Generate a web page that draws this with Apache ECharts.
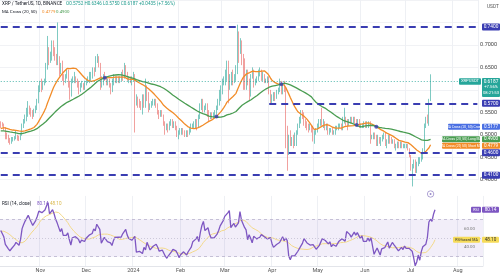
<!DOCTYPE html>
<html><head><meta charset="utf-8">
<script src="https://cdn.jsdelivr.net/npm/echarts@6/dist/echarts.min.js"></script>
<style>html,body{margin:0;padding:0;background:#fff}#c{width:500px;height:277px}</style>
</head><body><div id="c"></div><script>
// ---------------- data ----------------
const symbolTitle = 'XRP / TetherUS, 1D, BINANCE';
const startDate = '2023-10-06';
const axisEndDate = '2024-08-17';
// closes Aug 17 - Oct 5 2023 (needed for the 50-day MA / RSI at left edge)
const warmupCloses = [0.50,0.51,0.53,0.53,0.52,0.51,0.53,0.52,0.52,0.52,0.52,0.52,0.54,0.52,0.50,
  0.50,0.50,0.50,0.50,0.50,0.50,0.50,0.49,0.49,0.49,0.47,0.48,0.48,0.49,0.50,0.49,0.49,0.50,0.51,0.52,0.51,0.51,0.51,0.50,0.50,0.51,0.50,0.51,0.52,0.52,
  0.53,0.52,0.53,0.53,0.53];
// daily closes Oct 6 2023 - Jul 17 2024
const closes = [
  0.525,0.522,0.515,0.500,0.497,0.490,0.485,0.488,0.490,0.493,0.497,0.495,0.492,0.500,0.520,0.530,0.540,0.545,0.560,0.555,0.550,0.545,0.552,0.560,0.575,0.600,
  0.610,0.605,0.615,0.620,0.650,0.690,0.665,0.675,0.700,0.690,0.675,0.665,0.670,0.640,0.655,0.630,0.625,0.630,0.640,0.615,0.590,0.620,0.625,0.625,0.620,0.615,0.600,0.610,0.610,0.605,
  0.615,0.620,0.625,0.625,0.630,0.645,0.640,0.665,0.670,0.655,0.610,0.620,0.630,0.625,0.615,0.620,0.610,0.600,0.615,0.625,0.620,0.625,0.620,0.625,0.635,0.630,0.650,0.635,0.625,0.625,0.620,
  0.625,0.630,0.575,0.580,0.575,0.570,0.565,0.580,0.570,0.590,0.585,0.560,0.565,0.570,0.570,0.575,0.565,0.550,0.545,0.550,0.545,0.525,0.515,0.520,0.515,0.525,0.530,0.525,0.525,0.515,0.500,
  0.505,0.505,0.510,0.505,0.500,0.505,0.500,0.510,0.520,0.520,0.525,0.530,0.520,0.540,0.560,0.575,0.555,0.560,0.565,0.550,0.540,0.545,0.540,0.545,0.550,0.560,0.575,0.580,0.595,
  0.615,0.620,0.635,0.650,0.610,0.620,0.630,0.620,0.625,0.640,0.725,0.695,0.700,0.670,0.660,0.610,0.640,0.620,0.590,0.630,0.640,0.615,0.620,0.625,0.640,0.640,0.630,0.630,0.620,0.620,0.625,
  0.600,0.580,0.580,0.590,0.585,0.595,0.600,0.615,0.600,0.610,0.600,0.515,0.480,0.495,0.485,0.490,0.480,0.500,0.505,0.520,0.530,0.550,0.545,0.530,0.525,0.520,0.515,0.520,0.515,0.500,
  0.505,0.510,0.520,0.530,0.530,0.525,0.525,0.515,0.520,0.505,0.510,0.510,0.505,0.505,0.515,0.515,0.520,0.520,0.515,0.535,0.535,0.530,0.525,0.530,0.535,0.530,0.535,0.530,0.525,0.530,0.520,
  0.520,0.520,0.525,0.520,0.525,0.525,0.490,0.495,0.500,0.495,0.480,0.490,0.485,0.490,0.495,0.500,0.485,0.485,0.495,0.490,0.485,0.485,0.475,0.475,0.480,0.475,0.480,0.475,0.475,0.475,
  0.475,0.470,0.455,0.425,0.430,0.440,0.420,0.435,0.445,0.445,0.450,0.465,0.520,0.535,0.530,0.5752,0.6187];
const highs = [
  0.530,0.528,0.525,0.517,0.505,0.500,0.493,0.495,0.495,0.497,0.510,0.500,0.498,0.505,0.525,0.535,0.545,0.560,0.575,0.565,0.560,0.555,0.558,0.565,0.580,0.610,
  0.620,0.625,0.620,0.625,0.660,0.720,0.695,0.685,0.710,0.710,0.695,0.680,0.750,0.675,0.660,0.665,0.635,0.635,0.645,0.645,0.620,0.625,0.630,0.640,0.630,0.625,0.620,0.615,0.620,0.615,
  0.620,0.625,0.630,0.640,0.640,0.650,0.650,0.675,0.680,0.675,0.660,0.630,0.635,0.640,0.630,0.625,0.625,0.615,0.625,0.635,0.630,0.630,0.630,0.630,0.640,0.645,0.660,0.655,0.640,0.630,0.630,
  0.630,0.640,0.635,0.590,0.585,0.580,0.575,0.590,0.590,0.625,0.610,0.595,0.570,0.575,0.580,0.580,0.580,0.570,0.555,0.555,0.555,0.545,0.530,0.525,0.525,0.530,0.535,0.535,0.530,0.530,0.520,
  0.510,0.515,0.515,0.515,0.510,0.510,0.510,0.515,0.525,0.525,0.530,0.535,0.535,0.545,0.570,0.580,0.580,0.565,0.570,0.570,0.555,0.550,0.550,0.550,0.555,0.565,0.580,0.600,0.610,
  0.625,0.630,0.645,0.665,0.665,0.635,0.640,0.645,0.635,0.655,0.745,0.730,0.715,0.710,0.680,0.670,0.645,0.645,0.625,0.635,0.650,0.645,0.625,0.630,0.645,0.650,0.645,0.640,0.635,0.625,0.630,
  0.630,0.600,0.590,0.595,0.595,0.600,0.605,0.625,0.620,0.615,0.620,0.605,0.520,0.500,0.510,0.495,0.500,0.505,0.510,0.525,0.540,0.555,0.555,0.550,0.535,0.530,0.525,0.525,0.520,0.520,
  0.510,0.515,0.525,0.535,0.535,0.560,0.535,0.530,0.525,0.525,0.515,0.515,0.515,0.510,0.520,0.520,0.525,0.525,0.525,0.540,0.560,0.540,0.535,0.535,0.540,0.540,0.540,0.540,0.535,0.535,0.535,
  0.525,0.525,0.530,0.530,0.530,0.530,0.530,0.500,0.505,0.505,0.500,0.500,0.495,0.495,0.500,0.505,0.505,0.490,0.500,0.500,0.495,0.490,0.490,0.480,0.485,0.485,0.485,0.485,0.480,0.480,
  0.480,0.480,0.470,0.455,0.435,0.445,0.445,0.440,0.450,0.450,0.460,0.470,0.525,0.540,0.545,0.580,0.6346];
const lows = [
  0.515,0.518,0.510,0.490,0.490,0.482,0.478,0.480,0.485,0.487,0.490,0.487,0.486,0.488,0.498,0.515,0.525,0.530,0.540,0.545,0.540,0.535,0.540,0.548,0.555,0.570,
  0.595,0.595,0.600,0.610,0.615,0.645,0.655,0.660,0.665,0.675,0.665,0.655,0.655,0.630,0.635,0.620,0.610,0.615,0.625,0.605,0.578,0.585,0.615,0.615,0.615,0.605,0.590,0.595,0.605,0.600,
  0.600,0.610,0.615,0.615,0.620,0.625,0.630,0.640,0.660,0.650,0.600,0.605,0.610,0.620,0.610,0.610,0.605,0.590,0.595,0.610,0.615,0.615,0.615,0.615,0.620,0.620,0.625,0.630,0.620,0.615,0.615,
  0.610,0.620,0.505,0.565,0.560,0.560,0.555,0.545,0.560,0.560,0.575,0.550,0.555,0.560,0.565,0.565,0.560,0.545,0.535,0.540,0.540,0.520,0.500,0.510,0.505,0.510,0.520,0.515,0.515,0.510,0.495,
  0.490,0.500,0.500,0.500,0.495,0.495,0.495,0.500,0.505,0.515,0.515,0.515,0.510,0.515,0.535,0.555,0.550,0.550,0.555,0.540,0.530,0.535,0.535,0.535,0.540,0.545,0.555,0.565,0.575,
  0.590,0.610,0.610,0.620,0.570,0.600,0.610,0.610,0.615,0.620,0.635,0.660,0.680,0.655,0.600,0.600,0.600,0.610,0.575,0.585,0.625,0.605,0.610,0.615,0.620,0.630,0.620,0.620,0.615,0.615,0.615,
  0.590,0.570,0.570,0.575,0.575,0.580,0.590,0.595,0.590,0.590,0.595,0.470,0.420,0.455,0.475,0.475,0.470,0.475,0.475,0.500,0.515,0.525,0.535,0.520,0.515,0.510,0.505,0.510,0.505,0.485,
  0.480,0.500,0.505,0.515,0.520,0.520,0.515,0.510,0.510,0.500,0.500,0.505,0.500,0.500,0.500,0.510,0.510,0.515,0.510,0.510,0.525,0.520,0.510,0.520,0.525,0.525,0.525,0.520,0.520,0.520,0.515,
  0.515,0.515,0.515,0.515,0.515,0.515,0.480,0.490,0.490,0.490,0.475,0.475,0.480,0.475,0.485,0.490,0.475,0.470,0.480,0.480,0.480,0.480,0.470,0.465,0.470,0.470,0.470,0.470,0.470,0.470,
  0.470,0.465,0.450,0.420,0.385,0.425,0.415,0.415,0.430,0.435,0.440,0.445,0.460,0.515,0.525,0.520,0.5750];
// horizontal support / resistance levels and the day each one starts
const levelValues = [0.74, 0.57, 0.46, 0.41];
const levelStarts = ['2023-10-06', '2024-04-01', '2023-10-06', '2023-10-06'];
// tick labels
const monthTickDates = ['2023-11-01','2023-12-01','2024-01-01','2024-02-01','2024-03-01','2024-04-01','2024-05-01','2024-06-01','2024-07-01','2024-08-01'];
const monthTickLabels = ['Nov','Dec','2024','Feb','Mar','Apr','May','Jun','Jul','Aug'];
const hiddenPriceTicks = [0.60, 0.75, 0.80];
const rsiTickValues = [60, 40];

// ---------------- derived ----------------
const DAY = 86400000;
const categories = [];
for (let t = Date.parse(startDate + 'T00:00:00Z'); t <= Date.parse(axisEndDate + 'T00:00:00Z'); t += DAY)
  categories.push(new Date(t).toISOString().slice(0, 10));
const dates = categories.slice(0, closes.length);
const candles = closes.map((c, i) => {
  const o = i ? closes[i - 1] : warmupCloses[warmupCloses.length - 1];
  return [o, c, Math.min(lows[i], o, c), Math.max(highs[i], o, c)];
});
const all = warmupCloses.concat(closes), W = warmupCloses.length;
const sma = (arr, n, i) => { let s = 0; for (let k = i - n + 1; k <= i; k++) s += arr[k]; return s / n; };
const ma20 = closes.map((_, i) => sma(all, 20, W + i));
const ma50 = closes.map((_, i) => sma(all, 50, W + i));
// RSI 14 (Wilder)
const rsiAll = new Array(all.length).fill(null);
let ag = 0, al = 0;
for (let k = 1; k < all.length; k++) {
  const ch = all[k] - all[k - 1], g = Math.max(ch, 0), l = Math.max(-ch, 0);
  if (k <= 14) { ag += g / 14; al += l / 14; if (k < 14) continue; }
  else { ag = (ag * 13 + g) / 14; al = (al * 13 + l) / 14; }
  rsiAll[k] = al === 0 ? 100 : 100 - 100 / (1 + ag / al);
}
const rsi = closes.map((_, i) => rsiAll[W + i]);
const rsiMa = closes.map((_, i) => sma(rsiAll, 14, W + i));
const crosses = [];
for (let i = 1; i < closes.length; i++) {
  if ((ma20[i] - ma50[i] > 0) !== (ma20[i - 1] - ma50[i - 1] > 0)) crosses.push([dates[i], ma20[i]]);
}
const last = closes.length - 1;
const isMonthTick = (idx, v) => monthTickDates.indexOf(v) >= 0;
const FONT = 'Roboto, "Liberation Sans", sans-serif';

const chart = echarts.init(document.getElementById('c'));
const levelLines = levelValues.map((v, i) => [{ coord: [levelStarts[i], v] }, { coord: [categories[categories.length - 1], v] }]);

chart.setOption({
  animation: false,
  grid: [
    { left: 0, right: 17, top: -12.3, height: 192 },
    { left: 0, right: 17, top: 195.9, height: 70.1 }
  ],
  xAxis: [
    { type: 'category', gridIndex: 0, data: categories, boundaryGap: true,
      axisLine: { show: false }, axisTick: { show: false }, axisLabel: { show: false },
      splitLine: { show: true, interval: isMonthTick, lineStyle: { color: '#eef0f4', width: 1 } } },
    { type: 'category', gridIndex: 1, data: categories, boundaryGap: true,
      axisLine: { show: true, lineStyle: { color: '#e3e5ea' } }, axisTick: { show: false },
      axisLabel: { interval: isMonthTick, formatter: v => monthTickLabels[monthTickDates.indexOf(v)] || '',
        fontSize: 5.5, color: '#555', margin: 1.5, fontFamily: FONT },
      splitLine: { show: true, interval: isMonthTick, lineStyle: { color: '#eef0f4', width: 1 } } }
  ],
  yAxis: [
    { type: 'value', gridIndex: 0, position: 'right', min: 0.40, max: 0.80, interval: 0.05,
      axisLine: { show: false }, axisTick: { show: false },
      axisLabel: { fontSize: 5.5, color: '#444', margin: 2, fontFamily: FONT,
        formatter: v => hiddenPriceTicks.some(h => Math.abs(h - v) < 1e-6) ? '' : v.toFixed(4) },
      splitLine: { show: true, lineStyle: { color: '#f1f2f5' } } },
    { type: 'value', gridIndex: 1, position: 'right', min: 20, max: 95,
      axisLine: { show: false }, axisTick: { show: false }, axisLabel: { show: false }, splitLine: { show: false } }
  ],
  series: [
    { type: 'candlestick', xAxisIndex: 0, yAxisIndex: 0, data: candles, clip: false, barWidth: 1.1,
      itemStyle: { color: '#3aaea2', color0: '#ea6f6b', borderColor: '#3aaea2', borderColor0: '#ea6f6b', borderWidth: 1, opacity: 0.65 },
      markLine: { silent: true, symbol: 'none', label: { show: false }, animation: false,
        data: levelLines.concat([
          [{ coord: [dates[0], closes[last]], lineStyle: { color: '#26a69a', width: 1, type: [1, 2], opacity: 0.8 } },
           { coord: [categories[categories.length - 1], closes[last]] }]
        ]),
        lineStyle: { color: '#3a3db2', width: 2, type: [7, 5] } } },
    { type: 'line', xAxisIndex: 0, yAxisIndex: 0, data: ma20.map((v, i) => [dates[i], v]), showSymbol: false, clip: false,
      lineStyle: { color: '#f28c28', width: 1.3 }, z: 3 },
    { type: 'line', xAxisIndex: 0, yAxisIndex: 0, data: ma50.map((v, i) => [dates[i], v]), showSymbol: false, clip: false,
      lineStyle: { color: '#4a9d52', width: 1.3 }, z: 3 },
    { type: 'scatter', xAxisIndex: 0, yAxisIndex: 0, data: crosses, symbolSize: 4, itemStyle: { color: '#3a3db2' }, z: 4 },
    { type: 'line', xAxisIndex: 1, yAxisIndex: 1, data: rsiMa.map((v, i) => [dates[i], v]), showSymbol: false,
      lineStyle: { color: '#f3d98a', width: 1 }, z: 2,
      markArea: { silent: true, itemStyle: { color: 'rgba(126,87,194,0.10)' }, data: [[{ yAxis: 70 }, { yAxis: 30 }]] },
      markLine: { silent: true, symbol: 'none', label: { show: false },
        lineStyle: { color: '#b9b3cc', width: 0.8, type: [3, 3] },
        data: [{ yAxis: 70 }, { yAxis: 50, lineStyle: { type: [1, 2], color: '#c4c0d2' } }, { yAxis: 30 }] } },
    { type: 'line', xAxisIndex: 1, yAxisIndex: 1, data: rsi.map((v, i) => [dates[i], v]), showSymbol: false,
      lineStyle: { color: '#7e57c2', width: 1.3 }, z: 3 }
  ]
});

// ---------------- labels / tags ----------------
const px = (gi, x, y) => chart.convertToPixel({ gridIndex: gi }, [x, y]);
const g = [];
function box(x, yc, w, h, bg, t, fg, fs) {
  g.push({ type: 'rect', shape: { x: x, y: yc - h / 2, width: w, height: h, r: 1 }, style: { fill: bg }, z: 50 });
  if (t) g.push({ type: 'text', style: { x: x + w / 2, y: yc, text: t, fill: fg, font: fs + 'px ' + FONT, align: 'center', verticalAlign: 'middle' }, z: 51 });
}
function txt(x, y, t, fill, fs, align) {
  g.push({ type: 'text', style: { x: x, y: y, text: t, fill: fill, font: fs + 'px ' + FONT, align: align || 'left', verticalAlign: 'middle' }, z: 51 });
}
const prev = closes[last - 1], chg = closes[last] - prev;
txt(2, 4, symbolTitle, '#131722', 4.6);
txt(66, 4, 'O' + candles[last][0].toFixed(4) + ' H' + candles[last][3].toFixed(4) + ' L' + candles[last][2].toFixed(4) + ' C' + closes[last].toFixed(4) +
  ' +' + chg.toFixed(4) + ' (+' + (chg / prev * 100).toFixed(2) + '%)', '#1d9a8c', 4.6);
txt(2, 12, 'MA Cross (20, 50)', '#131722', 4.4);
txt(42, 12, ma20[last].toFixed(4), '#f28c28', 4.4);
txt(56, 12, ma50[last].toFixed(4), '#4a9d52', 4.4);
txt(487, 7, 'USDT', '#555', 4.8);
// level tags
levelValues.forEach(v => { const y = px(0, dates[0], v)[1]; box(482, y, 18, 7, '#3a3db2', v.toFixed(4), '#fff', 4.8); });
// price tag
const yc = px(0, dates[0], closes[last])[1];
box(459, yc, 22, 6.5, '#26a69a', 'XRPUSDT', '#fff', 4.2);
g.push({ type: 'rect', shape: { x: 482, y: yc - 3.5, width: 18, height: 19, r: 1 }, style: { fill: '#26a69a' }, z: 50 });
txt(491, yc, closes[last].toFixed(4), '#fff', 4.8, 'center');
txt(491, yc + 6, '+' + (chg / prev * 100).toFixed(2) + '%', '#fff', 4.2, 'center');
txt(491, yc + 11.5, '08:21:53', '#fff', 4.2, 'center');
// MA cross tags
if (crosses.length) {
  const cv = crosses[crosses.length - 1][1], y = px(0, dates[0], cv)[1];
  box(448, y, 32, 6, '#4a6fe3', 'MA Cross (20, 50) Cross', '#fff', 3.4);
  box(482, y, 18, 6, '#4a6fe3', cv.toFixed(4), '#fff', 4.6);
}
let yl = px(0, dates[0], ma50[last])[1], ys = px(0, dates[0], ma20[last])[1];
if (ys - yl < 6.5) ys = yl + 6.5;
box(442, yl, 38, 6, '#4a9d52', 'MA Cross (20, 50) Long MA', '#fff', 3.4);
box(482, yl, 18, 6, '#4a9d52', ma50[last].toFixed(4), '#fff', 4.6);
box(442, ys, 38, 6, '#f28c28', 'MA Cross (20, 50) Short MA', '#fff', 3.4);
box(482, ys, 18, 6, '#f28c28', ma20[last].toFixed(4), '#fff', 4.6);
// RSI pane
txt(2, 204, 'RSI (14, close)', '#131722', 4.6);
txt(37, 204, rsi[last].toFixed(2), '#7e57c2', 4.6);
txt(50, 204, rsiMa[last].toFixed(2), '#d9b84a', 4.6);
rsiTickValues.forEach(v => txt(464, px(1, dates[0], v)[1], v.toFixed(2), '#777', 4.4));
const yr = px(1, dates[0], rsi[last])[1], ym = px(1, dates[0], rsiMa[last])[1];
box(471, yr, 10, 6, '#7e57c2', 'RSI', '#fff', 3.6);
box(482, yr, 17, 6, '#7e57c2', rsi[last].toFixed(2), '#fff', 4.6);
box(453, ym, 27, 6, '#f6dc5a', 'RSI-based MA', '#333', 3.6);
box(482, ym, 17, 6, '#f6dc5a', rsiMa[last].toFixed(2), '#333', 4.6);
// event marker under the last candle
const xl = px(0, dates[last], closes[last])[0];
g.push({ type: 'circle', shape: { cx: xl, cy: 194, r: 3.2 }, style: { fill: '#fff', stroke: '#9a8cc9', lineWidth: 0.8 }, z: 50 });
g.push({ type: 'circle', shape: { cx: xl, cy: 194, r: 1 }, style: { fill: '#9a8cc9' }, z: 51 });
chart.setOption({ graphic: g });
</script></body></html>
